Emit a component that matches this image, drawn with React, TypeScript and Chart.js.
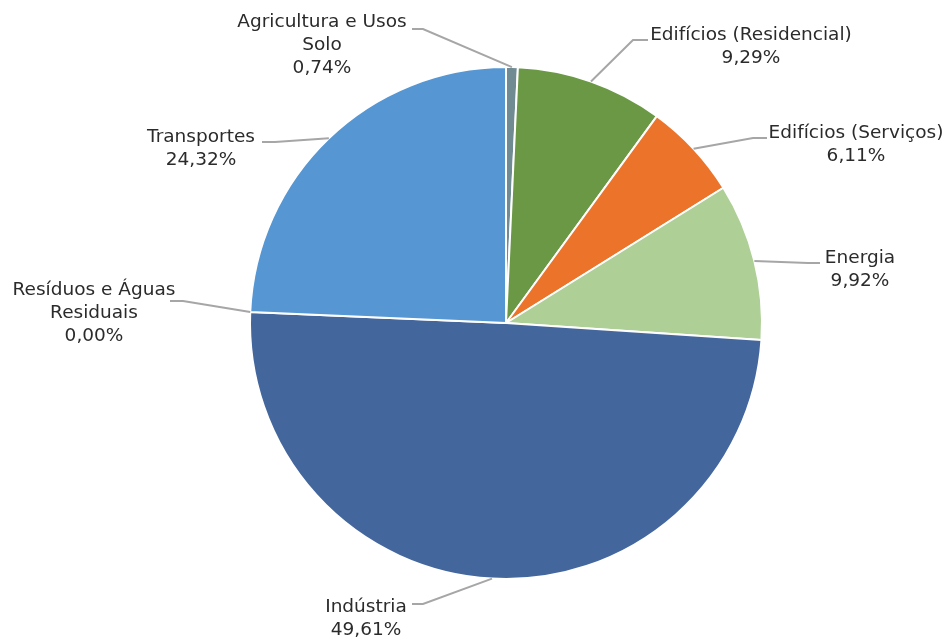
import React, { useEffect, useRef } from "react";
import { Chart, registerables } from "chart.js";

Chart.register(...registerables);

const categories = [
  "Agricultura e Usos Solo",
  "Edifícios (Residencial)",
  "Edifícios (Serviços)",
  "Energia",
  "Indústria",
  "Resíduos e Águas Residuais",
  "Transportes",
];
const values = [0.74, 9.29, 6.11, 9.92, 49.61, 0.0, 24.32];
const labelLines = [
  ["Agricultura e Usos", "Solo"],
  ["Edifícios (Residencial)"],
  ["Edifícios (Serviços)"],
  ["Energia"],
  ["Indústria"],
  ["Resíduos e Águas", "Residuais"],
  ["Transportes"],
];
const colors = ["#708b92", "#6a9844", "#ec742a", "#aecf96", "#43669d", "#a5a5a5", "#5596d3"];

// label layout: text centre x, first baseline y, leader line elbow and end
const labelLayout = [
  { tx: 322, ty: 27, elbow: [423, 29], end: [412, 29] },
  { tx: 751, ty: 40, elbow: [633, 40], end: [648, 40] },
  { tx: 856, ty: 138, elbow: [753, 138], end: [767, 138] },
  { tx: 860, ty: 263, elbow: [808, 263], end: [820, 263] },
  { tx: 366, ty: 612, elbow: [423, 604], end: [412, 604] },
  { tx: 94, ty: 295, elbow: [183, 301], end: [170, 301] },
  { tx: 201, ty: 142, elbow: [275, 142], end: [262, 142] },
];

const fmt = (v: number) => v.toFixed(2).replace(".", ",") + "%";

const labelPlugin = {
  id: "pieLabels",
  afterDraw(chart: any) {
    const ctx = chart.ctx;
    const meta = chart.getDatasetMeta(0);
    ctx.save();
    meta.data.forEach((arc: any, i: number) => {
      const { x, y, startAngle, endAngle, outerRadius } = arc.getProps(
        ["x", "y", "startAngle", "endAngle", "outerRadius"],
        true
      );
      const mid = (startAngle + endAngle) / 2;
      const ax = x + Math.cos(mid) * outerRadius;
      const ay = y + Math.sin(mid) * outerRadius;
      const L = labelLayout[i];
      ctx.strokeStyle = "#a6a6a6";
      ctx.lineWidth = 2;
      ctx.beginPath();
      ctx.moveTo(ax, ay);
      ctx.lineTo(L.elbow[0], L.elbow[1]);
      ctx.lineTo(L.end[0], L.end[1]);
      ctx.stroke();
      ctx.fillStyle = "#2b2b2b";
      ctx.font = "18.5px 'DejaVu Sans'";
      ctx.textAlign = "center";
      ctx.textBaseline = "alphabetic";
      const lines = [...labelLines[i], fmt(values[i])];
      lines.forEach((t, k) => ctx.fillText(t, L.tx, L.ty + k * 23));
    });
    ctx.restore();
  },
};

export default function App() {
  const ref = useRef<HTMLCanvasElement>(null);
  useEffect(() => {
    if (!ref.current) return;
    const chart = new Chart(ref.current, {
      type: "pie",
      data: {
        labels: categories,
        datasets: [
          {
            data: values,
            backgroundColor: colors,
            borderColor: "#ffffff",
            borderWidth: 2,
          },
        ],
      },
      options: {
        responsive: false,
        animation: false,
        layout: { padding: { left: 249, right: 179, top: 66, bottom: 57 } },
        plugins: { legend: { display: false }, tooltip: { enabled: false } },
      },
      plugins: [labelPlugin],
    });
    return () => chart.destroy();
  }, []);
  return (
    <div style={{ position: "fixed", left: 0, top: 0, width: 942, height: 637, background: "#fff" }}>
      <canvas ref={ref} width={942} height={637} />
    </div>
  );
}
